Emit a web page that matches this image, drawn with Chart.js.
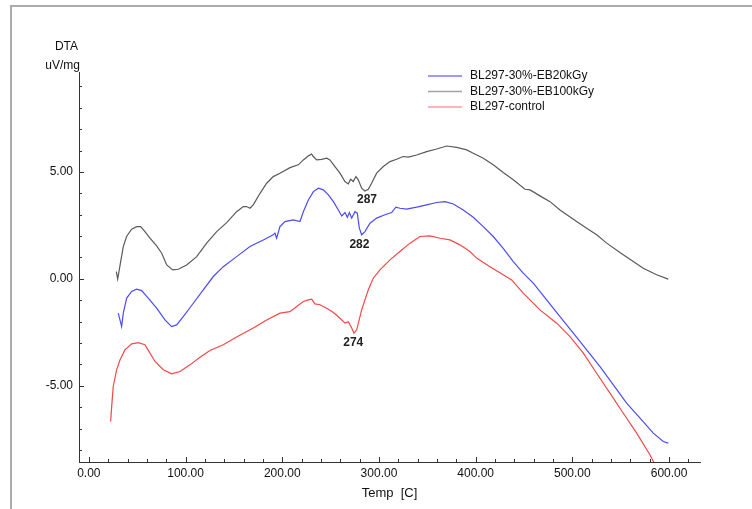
<!DOCTYPE html>
<html>
<head>
<meta charset="utf-8">
<script src="https://cdn.jsdelivr.net/npm/chart.js@4/dist/chart.umd.min.js"></script>
<style>
  html, body { margin: 0; padding: 0; background: #fff; }
  #wrap { position: relative; width: 752px; height: 509px; }
  #frame { position: absolute; left: 10px; top: 5px; width: 760px; height: 520px;
           border-top: 2px solid #ababab; border-left: 2px solid #ababab; pointer-events: none; }
  canvas { position: absolute; left: 0; top: 0; }
</style>
</head>
<body>
<div id="wrap">
<canvas id="c" width="752" height="509"></canvas>
<div id="frame"></div>
</div>
<script>
// ---- data ----
const seriesNames = ['BL297-30%-EB20kGy', 'BL297-30%-EB100kGy', 'BL297-control'];

const blueTemp = [30.4, 33.9, 35.6, 39.1, 44.3, 49.4, 54.6, 61.4, 70.1, 78.7, 85.6, 90.8, 97.6, 108, 118.3, 128.7, 139, 152.8, 166.6, 180.4, 190.7, 192.4, 194.2, 197.6, 202.8, 211.4, 218.3, 221.8, 227, 232.2, 237.4, 242.5, 247.7, 252.9, 258, 261.5, 264.9, 267.3, 269.4, 271.8, 275.2, 277.6, 279.7, 282.1, 285.5, 290.7, 297.6, 306.2, 313.1, 317.5, 321.7, 328.6, 339, 349.3, 359.7, 368.3, 376.9, 387.2, 397.5, 407.9, 418.2, 428.5, 438.9, 449.2, 459.6, 473.4, 487.2, 501, 514.8, 528.6, 542.4, 556.1, 570, 583.7, 594, 599.2];
const blueDTA = [-1.60, -2.23, -1.60, -0.90, -0.59, -0.48, -0.55, -0.90, -1.37, -1.92, -2.23, -2.15, -1.76, -1.14, -0.51, 0.11, 0.57, 1.04, 1.51, 1.82, 2.06, 2.14, 1.90, 2.44, 2.68, 2.76, 2.68, 3.14, 3.69, 4.08, 4.24, 4.16, 3.93, 3.61, 3.22, 2.94, 3.10, 2.88, 3.10, 2.84, 3.14, 3.07, 2.37, 2.06, 2.21, 2.60, 2.84, 3.00, 3.10, 3.35, 3.30, 3.26, 3.35, 3.46, 3.57, 3.61, 3.50, 3.22, 2.88, 2.44, 1.98, 1.43, 0.81, 0.27, -0.20, -0.98, -1.76, -2.54, -3.32, -4.10, -4.95, -5.81, -6.51, -7.21, -7.60, -7.68];

const grayTemp = [28.4, 29.8, 32, 35.6, 39, 44.2, 49.4, 53.6, 58, 63.2, 70.1, 75.3, 80.5, 86.7, 92.5, 101.1, 111.5, 121.8, 132.2, 142.5, 152.8, 159.7, 163.1, 166.6, 170, 177, 183.9, 190.7, 197.6, 208, 216.6, 221.8, 227, 230.4, 232.1, 235.6, 240.7, 245.9, 249.3, 254.5, 259.7, 264.8, 268.3, 270.7, 273.4, 276.2, 278.6, 282.1, 285.5, 289, 292.4, 297.6, 304.5, 311.4, 318.3, 325.1, 330.3, 339, 349.3, 359.7, 370, 380.4, 390.7, 397.5, 407.9, 418.2, 428.5, 438.9, 451, 456.2, 466.5, 476.9, 487.2, 501, 514.8, 525.1, 535.5, 549.2, 563, 573.3, 587.1, 599.2];
const grayDTA = [0.34, -0.01, 0.57, 1.51, 1.98, 2.32, 2.44, 2.44, 2.21, 1.90, 1.54, 1.20, 0.65, 0.42, 0.45, 0.65, 1.04, 1.67, 2.21, 2.63, 3.14, 3.38, 3.38, 3.30, 3.46, 4.00, 4.47, 4.78, 4.94, 5.20, 5.33, 5.56, 5.75, 5.84, 5.72, 5.56, 5.59, 5.64, 5.56, 5.25, 4.94, 4.55, 4.44, 4.66, 4.55, 4.78, 4.63, 4.24, 4.11, 4.19, 4.47, 4.94, 5.25, 5.48, 5.59, 5.72, 5.69, 5.79, 5.95, 6.07, 6.21, 6.15, 6.03, 5.87, 5.64, 5.33, 4.97, 4.63, 4.19, 4.16, 3.88, 3.61, 3.22, 2.79, 2.37, 2.06, 1.67, 1.23, 0.81, 0.50, 0.19, -0.01];

const redTemp = [22.5, 23.6, 25.2, 28.7, 32.2, 37.3, 44.3, 51.1, 58, 63.2, 68.4, 77, 85.6, 94.2, 104.6, 114.9, 125.2, 139, 152.8, 170, 183.9, 197.6, 208, 214.9, 221.8, 227, 230.4, 233.8, 239, 245.9, 252.9, 259.7, 264.9, 268.3, 271.8, 274.2, 277, 282.1, 289, 294.1, 301, 311.4, 321.7, 332.1, 342.4, 352.7, 363.1, 373.4, 383.7, 394.1, 401, 414.8, 428.5, 437.2, 449.2, 466.5, 483.8, 497.6, 511.4, 525.1, 538.9, 552.7, 566.5, 580.2, 588];
const redDTA = [-6.67, -5.97, -5.03, -4.25, -3.79, -3.32, -3.04, -2.98, -3.08, -3.47, -3.86, -4.25, -4.44, -4.33, -4.02, -3.66, -3.35, -3.08, -2.72, -2.30, -1.92, -1.60, -1.53, -1.29, -1.06, -0.98, -0.95, -1.17, -1.21, -1.37, -1.57, -1.84, -2.07, -2.00, -2.30, -2.54, -2.38, -1.45, -0.51, 0.03, 0.42, 0.89, 1.28, 1.67, 1.98, 2.01, 1.90, 1.82, 1.59, 1.28, 0.97, 0.57, 0.19, -0.05, -0.67, -1.45, -2.07, -2.70, -3.47, -4.41, -5.34, -6.28, -7.21, -8.22, -8.90];

const xTickLabels = [0, 100, 200, 300, 400, 500, 600];
const yTickLabels = [-5, 0, 5];

const peakLabels = ['287', '282', '274'];
const peakLabelTemp = [287.6, 279.8, 273.4];
const peakLabelDTA = [3.71, 1.61, -2.98];

// ---- chart ----
function pts(xs, ys) { return xs.map((x, i) => ({ x: x, y: ys[i] })); }

const FONT = '"Liberation Sans", Arial, sans-serif';

const tickPlugin = {
  id: 'innerTicks',
  afterDraw(chart) {
    const ctx = chart.ctx, xs = chart.scales.x, ys = chart.scales.y;
    const ca = chart.chartArea;
    ctx.save();
    ctx.strokeStyle = '#333';
    ctx.lineWidth = 1;
    ctx.beginPath();
    for (let v = 0; v <= 620; v += 20) {
      const px = Math.round(xs.getPixelForValue(v)) + 0.5;
      const len = (v % 100 === 0) ? 5 : 3;
      ctx.moveTo(px, ca.bottom);
      ctx.lineTo(px, ca.bottom - len);
    }
    for (let v = -8; v <= 9; v += 1) {
      const py = Math.round(ys.getPixelForValue(v)) + 0.5;
      const len = (v % 5 === 0) ? 5 : 3;
      ctx.moveTo(ca.left, py);
      ctx.lineTo(ca.left + len, py);
    }
    ctx.stroke();

    // y axis title above the axis
    ctx.fillStyle = '#111';
    ctx.font = '12px ' + FONT;
    ctx.textAlign = 'right';
    ctx.textBaseline = 'middle';
    ctx.fillText('DTA', ca.left - 1, 47);
    ctx.fillText('uV/mg', ca.left + 1, 66);

    // peak labels
    ctx.font = 'bold 12px ' + FONT;
    ctx.fillStyle = '#222';
    ctx.textAlign = 'center';
    peakLabels.forEach((t, i) => {
      ctx.fillText(t, xs.getPixelForValue(peakLabelTemp[i]), ys.getPixelForValue(peakLabelDTA[i]));
    });

    // legend
    const legendY = [76, 91.5, 107];
    ctx.font = '12px ' + FONT;
    ctx.textAlign = 'left';
    ctx.fillStyle = '#111';
    chart.data.datasets.forEach((ds, i) => {
      ctx.strokeStyle = ds.legendColor;
      ctx.lineWidth = 1.6;
      ctx.beginPath();
      ctx.moveTo(428, legendY[i]);
      ctx.lineTo(462, legendY[i]);
      ctx.stroke();
      ctx.fillText(ds.label, 470, legendY[i]);
    });
    ctx.restore();
  }
};

new Chart(document.getElementById('c'), {
  type: 'line',
  data: {
    datasets: [
      { label: seriesNames[0], data: pts(blueTemp, blueDTA), borderColor: '#4b4bf5', legendColor: '#7a7aff' },
      { label: seriesNames[1], data: pts(grayTemp, grayDTA), borderColor: '#5a5a5a', legendColor: '#a3a3a3' },
      { label: seriesNames[2], data: pts(redTemp, redDTA), borderColor: '#f24848', legendColor: '#ff9c9c' }
    ]
  },
  options: {
    responsive: false,
    animation: false,
    devicePixelRatio: 1,
    layout: { padding: { top: 72, right: 52, left: 0, bottom: 0 } },
    elements: {
      point: { radius: 0 },
      line: { borderWidth: 1.2, tension: 0, fill: false }
    },
    plugins: { legend: { display: false }, tooltip: { enabled: false } },
    scales: {
      x: {
        type: 'linear',
        min: -10.2, max: 632,
        grid: { display: false, drawTicks: false },
        border: { display: true, color: '#333', width: 1 },
        ticks: {
          stepSize: 20, includeBounds: false, autoSkip: false, maxRotation: 0,
          padding: 4, color: '#111', font: { family: FONT, size: 12 },
          callback: (v) => xTickLabels.includes(v) ? v.toFixed(2) : ''
        },
        title: { display: true, text: 'Temp  [C]', color: '#111', font: { family: FONT, size: 13 }, padding: { top: 0, bottom: 8 } },
        afterFit: (s) => { s.height = 47; }
      },
      y: {
        type: 'linear',
        min: -8.56, max: 9.67,
        grid: { display: false, drawTicks: false },
        border: { display: true, color: '#333', width: 1 },
        ticks: {
          stepSize: 1, includeBounds: false, autoSkip: false,
          padding: 6, color: '#111', font: { family: FONT, size: 12 },
          callback: (v) => yTickLabels.includes(v) ? v.toFixed(2) : ''
        },
        afterFit: (s) => { s.width = 79; }
      }
    }
  },
  plugins: [tickPlugin]
});
</script>
</body>
</html>
